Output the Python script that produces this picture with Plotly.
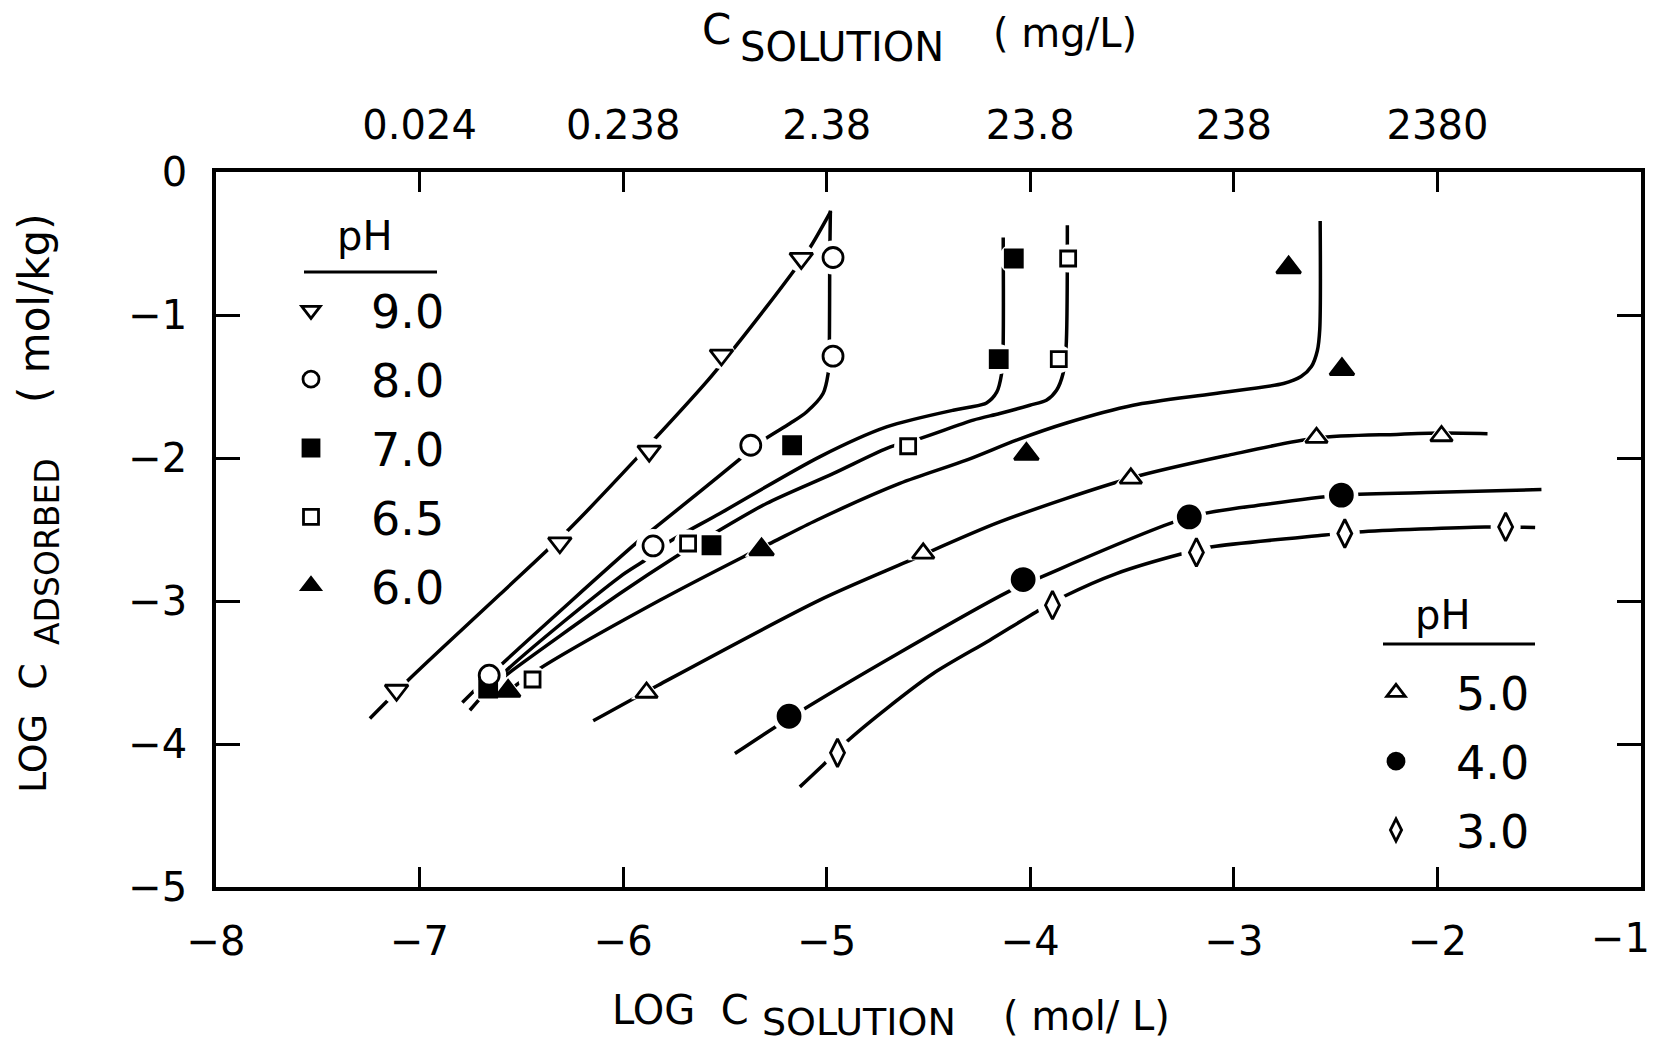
import plotly.graph_objects as go

# ---------------- axis ticks ----------------
X_TICKS = [-8, -7, -6, -5, -4, -3, -2, -1]
Y_TICKS = [0, -1, -2, -3, -4, -5]
TOP_TICKS = [-7, -6, -5, -4, -3, -2]
TOP_TICK_LABELS = ["0.024", "0.238", "2.38", "23.8", "238", "2380"]

# ---------------- measured points (log C solution, log C adsorbed) ----------------
PH90_X = [-7.113, -6.311, -5.872, -5.517, -5.125]
PH90_Y = [-3.624, -2.593, -1.952, -1.280, -0.604]
PH80_X = [-6.658, -5.853, -5.373, -4.969, -4.969]
PH80_Y = [-3.519, -2.615, -1.911, -1.288, -0.598]
PH70_X = [-6.663, -5.566, -5.170, -4.155, -4.081]
PH70_Y = [-3.612, -2.610, -1.911, -1.309, -0.605]
PH65_X = [-6.445, -5.681, -4.600, -3.860, -3.814]
PH65_Y = [-3.549, -2.598, -1.918, -1.309, -0.605]
PH60_X = [-6.565, -5.320, -4.019, -2.731, -2.469]
PH60_Y = [-3.630, -2.640, -1.972, -0.669, -1.380]
PH50_X = [-5.885, -4.526, -3.506, -2.594, -1.980]
PH50_Y = [-3.640, -2.667, -2.142, -1.858, -1.846]
PH40_X = [-5.185, -4.035, -3.219, -2.472]
PH40_Y = [-3.806, -2.850, -2.412, -2.260]
PH30_X = [-4.947, -3.891, -3.184, -2.455, -1.665]
PH30_Y = [-4.062, -3.029, -2.660, -2.528, -2.482]

# ---------------- fitted curves ----------------
CURVE90_X = [-7.244, -7.031, -6.606, -6.262, -5.934, -5.583, -5.443, -5.148, -5.075, -4.980]
CURVE90_Y = [-3.822, -3.520, -2.955, -2.493, -2.003, -1.456, -1.211, -0.664, -0.512, -0.275]
CURVE80_X = [-6.790, -6.614, -5.935, -5.869, -5.623, -5.418, -5.312, -5.181, -5.099, -5.018,
             -4.993, -4.988, -4.985, -4.982]
CURVE80_Y = [-3.710, -3.465, -2.594, -2.517, -2.235, -1.997, -1.876, -1.759, -1.678, -1.549,
             -1.409, -1.290, -0.600, -0.270]
CURVE70_X = [-6.753, -6.581, -6.016, -5.893, -5.787, -5.525, -5.035, -4.706, -4.379, -4.300,
             -4.215, -4.165, -4.142, -4.134, -4.133]
CURVE70_Y = [-3.764, -3.496, -2.831, -2.715, -2.598, -2.388, -1.992, -1.783, -1.666, -1.645,
             -1.615, -1.540, -1.420, -1.250, -0.458]
CURVE65_X = [-6.620, -6.565, -6.016, -5.744, -5.541, -5.296, -4.969, -4.687, -4.543, -4.280,
             -4.150, -4.002, -3.921, -3.871, -3.839, -3.824, -3.818]
CURVE65_Y = [-3.570, -3.507, -2.948, -2.692, -2.517, -2.318, -2.109, -1.922, -1.864, -1.735,
             -1.689, -1.631, -1.596, -1.526, -1.409, -1.223, -0.372]
CURVE60_X = [-6.565, -6.409, -5.820, -5.411, -5.263, -5.050, -4.641, -4.314, -4.068, -3.822,
             -3.495, -3.100, -2.756, -2.670, -2.619, -2.590, -2.578, -2.576]
CURVE60_Y = [-3.630, -3.472, -2.995, -2.692, -2.587, -2.435, -2.178, -2.015, -1.875, -1.755,
             -1.631, -1.550, -1.479, -1.430, -1.360, -1.250, -1.100, -0.342]
CURVE50_X = [-6.147, -5.828, -5.035, -4.608, -4.150, -3.506, -3.025, -2.594, -2.200, -1.980, -1.754]
CURVE50_Y = [-3.838, -3.589, -2.994, -2.727, -2.447, -2.140, -1.980, -1.860, -1.835, -1.826, -1.830]
CURVE40_X = [-5.451, -5.185, -4.641, -4.093, -3.953, -3.219, -2.850, -2.472, -2.001, -1.489]
CURVE40_Y = [-4.067, -3.820, -3.360, -2.924, -2.836, -2.412, -2.325, -2.260, -2.240, -2.221]
CURVE30_X = [-5.132, -5.010, -4.903, -4.706, -4.477, -4.199, -3.969, -3.830, -3.577, -3.250,
             -3.106, -2.553, -2.390, -1.766, -1.520]
CURVE30_Y = [-4.300, -4.136, -3.985, -3.752, -3.507, -3.274, -3.075, -2.965, -2.808, -2.668,
             -2.621, -2.539, -2.517, -2.482, -2.486]

# ---------------- styling ----------------
FONT = "DejaVu Sans"
BLACK = "#000000"
WHITE = "#ffffff"
PL, PR, PT, PB = 216, 1641, 172, 887   # plot area in page pixels


def pxx(v):
    return (v - PL) / (PR - PL)


def pxy(v):
    return (PB - v) / (PB - PT)


series = [
    # name, x, y, curve x, curve y, symbol, fill, size, halo symbol, halo size, legend, rank
    ("7.0", PH70_X, PH70_Y, CURVE70_X, CURVE70_Y, "square", BLACK, 17, "circle", 30, "legend", 3),
    ("6.5", PH65_X, PH65_Y, CURVE65_X, CURVE65_Y, "square", WHITE, 15, "circle", 28, "legend", 4),
    ("6.0", PH60_X, PH60_Y, CURVE60_X, CURVE60_Y, "triangle-up", BLACK, 21, "triangle-up", 29, "legend", 5),
    ("9.0", PH90_X, PH90_Y, CURVE90_X, CURVE90_Y, "triangle-down", WHITE, 20, "circle", 28, "legend", 1),
    ("8.0", PH80_X, PH80_Y, CURVE80_X, CURVE80_Y, "circle", WHITE, 20, "circle", 34, "legend", 2),
    ("5.0", PH50_X, PH50_Y, CURVE50_X, CURVE50_Y, "triangle-up", WHITE, 19, "triangle-up", 27, "legend2", 6),
    ("4.0", PH40_X, PH40_Y, CURVE40_X, CURVE40_Y, "circle", BLACK, 22, "circle", 34, "legend2", 7),
    ("3.0", PH30_X, PH30_Y, CURVE30_X, CURVE30_Y, "diamond-tall", WHITE, 20, "circle", 30, "legend2", 8),
]

fig = go.Figure()

# curves
for name, x, y, cx, cy, sym, fill, size, hsym, hsize, leg, rank in series:
    fig.add_trace(go.Scatter(
        x=cx, y=cy, mode="lines",
        line=dict(color=BLACK, width=3.5, shape="spline", smoothing=0.8),
        showlegend=False, hoverinfo="skip"))

# white halos that break the curves around symbols
for name, x, y, cx, cy, sym, fill, size, hsym, hsize, leg, rank in series:
    fig.add_trace(go.Scatter(
        x=x, y=y, mode="markers",
        marker=dict(symbol=hsym, size=hsize, color=WHITE, line=dict(width=0)),
        showlegend=False, hoverinfo="skip"))

# symbols
for name, x, y, cx, cy, sym, fill, size, hsym, hsize, leg, rank in series:
    fig.add_trace(go.Scatter(
        x=x, y=y, mode="markers", name=name,
        marker=dict(symbol=sym, size=size, color=fill,
                    line=dict(color=BLACK, width=2.8)),
        legend=leg, legendgroup=name, legendrank=rank, showlegend=True))

# trace on the top (mg/L) axis
fig.add_trace(go.Scatter(x=[X_TICKS[0], X_TICKS[-1]], y=[None, None], xaxis="x2",
                         mode="lines", showlegend=False, hoverinfo="skip"))

axis_common = dict(showgrid=False, zeroline=False, showline=True, linecolor=BLACK,
                   linewidth=3.5, ticks="inside", tickcolor=BLACK, tickwidth=2.5,
                   automargin=False,
                   tickfont=dict(family=FONT, size=40, color=BLACK))

legend_common = dict(xanchor="left", yanchor="top", bgcolor="rgba(0,0,0,0)",
                     borderwidth=0, itemsizing="trace", itemwidth=110,
                     font=dict(family=FONT, size=46, color=BLACK), tracegroupgap=6)

fig.update_layout(
    width=1653, height=1049,
    margin=dict(l=PL, r=1653 - PR, t=PT, b=1049 - PB, autoexpand=False),
    paper_bgcolor=WHITE, plot_bgcolor=WHITE,
    font=dict(family=FONT, color=BLACK),
    # last bottom label (at the right frame edge) is drawn right-aligned below
    xaxis=dict(range=[-8, -1], tickvals=X_TICKS[:-1], ticklen=20, ticklabelstandoff=16,
               **axis_common),
    xaxis2=dict(range=[-8, -1], overlaying="x", side="top", anchor="y",
                tickvals=TOP_TICKS, ticktext=TOP_TICK_LABELS, ticklen=20,
                ticklabelstandoff=13, **axis_common),
    yaxis=dict(range=[-5, 0], tickvals=Y_TICKS, ticklen=24, mirror="ticks",
               ticklabelstandoff=17, **axis_common),
    legend=dict(x=pxx(251), y=pxy(274), **legend_common),
    legend2=dict(x=pxx(1336), y=pxy(656), **legend_common),
    shapes=[
        dict(type="line", xref="paper", yref="paper", x0=pxx(304), x1=pxx(437),
             y0=pxy(272), y1=pxy(272), line=dict(color=BLACK, width=3)),
        dict(type="line", xref="paper", yref="paper", x0=pxx(1383), x1=pxx(1535),
             y0=pxy(644), y1=pxy(644), line=dict(color=BLACK, width=3)),
    ],
)

ann = []


def add_text(text, x, y, size, angle=0, xanchor="center"):
    ann.append(dict(text=text, x=pxx(x), y=pxy(y), xref="paper", yref="paper",
                    xanchor=xanchor, yanchor="middle", showarrow=False,
                    textangle=angle, font=dict(family=FONT, size=size, color=BLACK)))


NB = "\u00a0"
# last bottom tick label, kept inside the page
add_text("\u2212" + str(abs(X_TICKS[-1])), 1652, 938, 40, xanchor="right")
# legend headings
add_text("pH", 364, 236, 40)
add_text("pH", 1442, 615, 40)
# bottom title
add_text("LOG" + NB * 2 + "C", 680, 1010, 40)
add_text("SOLUTION", 859, 1022, 38)
add_text("(" + NB + "mol/" + NB + "L)", 1086, 1016, 40)
# top title
add_text("C", 716, 29, 42)
add_text("SOLUTION", 842, 47, 40)
add_text("(" + NB + "mg/L)", 1065, 33, 40)
# y title (rotated)
add_text("LOG" + NB * 2 + "C", 33, 728, 38, -90)
add_text("ADSORBED", 47, 552, 33, -90)
add_text("(" + NB + "mol/kg)", 34, 308, 42, -90)

fig.update_layout(annotations=ann)

# remove the browser's default page margin so the figure sits at the page origin
fig.write_html("out.html",
               config={"displayModeBar": False},
               post_script="document.body.style.margin='0';document.body.style.padding='0';")
